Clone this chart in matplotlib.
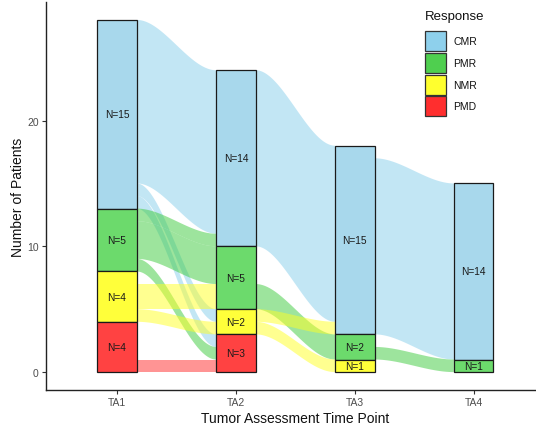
import numpy as np
import matplotlib
matplotlib.use("Agg")
import matplotlib.pyplot as plt
from matplotlib.patches import Rectangle, Polygon

plt.rcParams['font.family'] = ['Liberation Sans', 'DejaVu Sans']

# ---------------- data ----------------
time_points = ['TA1', 'TA2', 'TA3', 'TA4']
responses = ['CMR', 'PMR', 'NMR', 'PMD']          # top -> bottom in stack
cmr_counts = [15, 14, 15, 14]
pmr_counts = [5, 5, 2, 1]
nmr_counts = [4, 2, 1, 0]
pmd_counts = [4, 3, 0, 0]

# transitions between consecutive time points: (from, to, n); to=None -> not assessed later
trans_ta1_ta2 = [('CMR', 'CMR', 13), ('CMR', 'NMR', 1), ('CMR', 'PMD', 1),
                 ('PMR', 'CMR', 1), ('PMR', 'PMR', 3), ('PMR', 'PMD', 1),
                 ('NMR', None, 1), ('NMR', 'PMR', 2), ('NMR', 'NMR', 1),
                 ('PMD', None, 3), ('PMD', 'PMD', 1)]
trans_ta2_ta3 = [('CMR', 'CMR', 14),
                 ('PMR', None, 3), ('PMR', 'PMR', 2),
                 ('NMR', 'CMR', 1), ('NMR', 'NMR', 1),
                 ('PMD', None, 3)]
trans_ta3_ta4 = [('CMR', None, 1), ('CMR', 'CMR', 14),
                 ('PMR', None, 1), ('PMR', 'PMR', 1),
                 ('NMR', None, 1)]

bar_colors = {'CMR': '#A8D8EC', 'PMR': '#6CDA6C', 'NMR': '#FFFF3A', 'PMD': '#FF4242'}
legend_colors = {'CMR': '#8ED0EC', 'PMR': '#4FCF4F', 'NMR': '#FFFF2E', 'PMD': '#FF2E2E'}
flow_colors = {'CMR': '#87CEEB', 'PMR': '#3CCB3C', 'NMR': '#FFFF22', 'PMD': '#FF2A2A'}
flow_alpha = 0.5

# ---------------- figure ----------------
W, H = 536, 427
fig = plt.figure(figsize=(W / 100, H / 100), dpi=100)
ax_l, ax_r, ax_t, ax_b = 45.7, 545.0, 3.3, 390.7
ax = fig.add_axes([ax_l / W, (H - ax_b) / H, (ax_r - ax_l) / W, (ax_b - ax_t) / H])
ax.set_xlim(0.4, 4.6)
ax.set_ylim(-1.4, 29.4)

counts = {'CMR': cmr_counts, 'PMR': pmr_counts, 'NMR': nmr_counts, 'PMD': pmd_counts}
bw = 1 / 3

# stratum bottoms
bottoms = []
for i in range(len(time_points)):
    b = {}
    acc = 0
    for r in reversed(responses):
        b[r] = acc
        acc += counts[r][i]
    bottoms.append(b)

dest_order = [None] + responses
src_order = responses


def smooth(t):
    return t * t * (3 - 2 * t)


all_trans = [trans_ta1_ta2, trans_ta2_ta3, trans_ta3_ta4]
for i, trans in enumerate(all_trans):
    # left positions: within source stratum, top -> bottom by destination order
    left = {}
    for r in responses:
        top = bottoms[i][r] + counts[r][i]
        items = sorted([t for t in trans if t[0] == r], key=lambda t: dest_order.index(t[1]))
        for (s, d, n) in items:
            left[(s, d)] = (top - n, top)
            top -= n
    right = {}
    for r in responses:
        top = bottoms[i + 1][r] + counts[r][i + 1]
        items = sorted([t for t in trans if t[1] == r], key=lambda t: src_order.index(t[0]))
        for (s, d, n) in items:
            right[(s, d)] = (top - n, top)
            top -= n
    x0 = i + 1 + bw / 2
    x1 = i + 2 - bw / 2
    xs = np.linspace(0, 1, 80)
    for (s, d, n) in trans:
        if d is None:
            continue
        (lb, lt), (rb, rt) = left[(s, d)], right[(s, d)]
        xx = x0 + (x1 - x0) * xs
        top_y = lt + (rt - lt) * smooth(xs)
        bot_y = lb + (rb - lb) * smooth(xs)
        pts = np.concatenate([np.column_stack([xx, top_y]), np.column_stack([xx[::-1], bot_y[::-1]])])
        ax.add_patch(Polygon(pts, closed=True, facecolor=flow_colors[s], alpha=flow_alpha,
                             edgecolor='none', zorder=1))

# strata
for i in range(len(time_points)):
    for r in responses:
        n = counts[r][i]
        if n == 0:
            continue
        b = bottoms[i][r]
        ax.add_patch(Rectangle((i + 1 - bw / 2, b), bw, n, facecolor=bar_colors[r],
                               edgecolor='#1a1a1a', linewidth=0.9, zorder=3))
        ax.text(i + 1, b + n / 2, f'N={n}', ha='center', va='center', fontsize=7.3,
                color='#1a1a1a', zorder=4)

# axes styling
for sp in ['top', 'right']:
    ax.spines[sp].set_visible(False)
for sp in ['left', 'bottom']:
    ax.spines[sp].set_color('#222222')
    ax.spines[sp].set_linewidth(1.0)
ax.set_xticks(range(1, len(time_points) + 1))
ax.set_xticklabels(time_points)
ax.set_yticks([0, 10, 20])
ax.tick_params(axis='both', colors='#333333', labelcolor='#4D4D4D', labelsize=7.5,
               length=3, width=0.8, pad=2)
ax.set_xlabel('Tumor Assessment Time Point', fontsize=10, color='#111111', labelpad=3)
ax.set_ylabel('Number of Patients', fontsize=10, color='#111111', labelpad=1.5)

# legend (manual, inside plot)
fig.text(425 / W, 1 - 17 / H, 'Response', fontsize=9.5, ha='left', va='center', color='#111111')
key_tops = [31.7, 54, 76, 97]
for r, kt in zip(responses, key_tops):
    fig.patches.append(Rectangle((425 / W, 1 - (kt + 20) / H), 20.5 / W, 20 / H,
                                 transform=fig.transFigure, facecolor=legend_colors[r],
                                 edgecolor='#333333', linewidth=0.9))
    fig.text(453 / W, 1 - (kt + 10) / H, r, fontsize=7.5, ha='left', va='center', color='#111111')

fig.savefig('out.png', dpi=100)
